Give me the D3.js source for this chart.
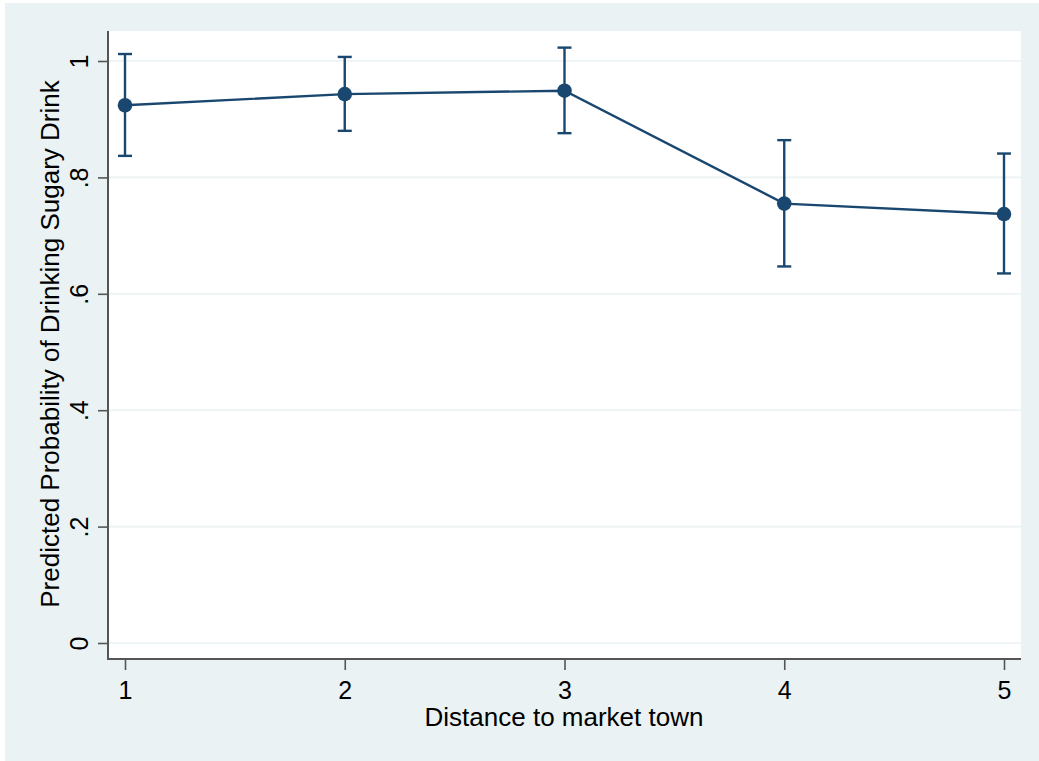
<!DOCTYPE html>
<html>
<head>
<meta charset="utf-8">
<script src="https://cdn.jsdelivr.net/npm/d3@7"></script>
<style>
html,body{margin:0;padding:0;background:#fff;}
svg{display:block;}
text{font-family:"Liberation Sans", Arial, sans-serif;fill:#000;}
</style>
</head>
<body>
<svg id="chart" width="1039" height="761"></svg>
<script>
const categories = [1, 2, 3, 4, 5];
const estimates = [0.924, 0.943, 0.949, 0.755, 0.737];
const ciLower = [0.837, 0.880, 0.876, 0.647, 0.635];
const ciUpper = [1.012, 1.007, 1.023, 0.864, 0.841];
const yTicks = [0, 0.2, 0.4, 0.6, 0.8, 1];
const yTickLabels = ["0", ".2", ".4", ".6", ".8", "1"];
const xTitle = "Distance to market town";
const yTitle = "Predicted Probability of Drinking Sugary Drink";

const svg = d3.select("#chart");
const W = 1039, H = 761;
const bg = "#eaf2f3", navy = "#1a476f", axisCol = "#555555";

svg.append("rect").attr("x", 5).attr("y", 3).attr("width", W - 5).attr("height", H - 3).attr("fill", bg);

const plot = {left: 108, top: 31, right: 1021, bottom: 659};
svg.append("rect").attr("x", plot.left).attr("y", plot.top)
  .attr("width", plot.right - plot.left).attr("height", plot.bottom - plot.top).attr("fill", "#fff");

const x = d3.scaleLinear().domain([1, 5]).range([125, 1004]);
const y = d3.scaleLinear().domain([0, 1]).range([643, 61]);

// gridlines
svg.append("g").selectAll("line").data(yTicks).join("line")
  .attr("x1", plot.left).attr("x2", plot.right)
  .attr("y1", d => y(d)).attr("y2", d => y(d))
  .attr("stroke", bg).attr("stroke-width", 1.6);

// Y axis
const yAxis = d3.axisLeft(y).tickValues(yTicks).tickFormat((d, i) => yTickLabels[i]).tickSize(10).tickPadding(8);
const gy = svg.append("g").attr("transform", `translate(${plot.left},0)`).call(yAxis);
gy.select(".domain").remove();
gy.selectAll(".tick line").attr("stroke", axisCol).attr("stroke-width", 1.6);
gy.selectAll(".tick text")
  .attr("font-size", 25).attr("fill", "#000")
  .attr("dy", null)
  .attr("text-anchor", "middle")
  .attr("transform", "translate(-20,0) rotate(-90)")
  .attr("x", 0).attr("y", 0);
svg.append("line").attr("x1", plot.left).attr("x2", plot.left)
  .attr("y1", plot.top).attr("y2", plot.bottom)
  .attr("stroke", axisCol).attr("stroke-width", 2);

// X axis
const xAxis = d3.axisBottom(x).tickValues(categories).tickFormat(d3.format("d")).tickSize(11).tickPadding(6);
const gx = svg.append("g").attr("transform", `translate(0,${plot.bottom})`).call(xAxis);
gx.select(".domain").remove();
gx.selectAll(".tick line").attr("stroke", axisCol).attr("stroke-width", 1.6);
gx.selectAll(".tick text").attr("font-size", 25).attr("fill", "#000").attr("dy", null).attr("y", 40);
svg.append("line").attr("x1", plot.left - 1).attr("x2", plot.right)
  .attr("y1", plot.bottom).attr("y2", plot.bottom)
  .attr("stroke", axisCol).attr("stroke-width", 2);

// titles
svg.append("text").attr("x", 564).attr("y", 726).attr("text-anchor", "middle")
  .attr("font-size", 26).text(xTitle);
svg.append("text").attr("transform", `translate(59,344) rotate(-90)`).attr("text-anchor", "middle")
  .attr("font-size", 26).text(yTitle);

// data
const data = categories.map((c, i) => ({c, est: estimates[i], lo: ciLower[i], hi: ciUpper[i]}));
const g = svg.append("g");
const capW = 7;
g.selectAll("line.err").data(data).join("line").attr("class", "err")
  .attr("x1", d => x(d.c)).attr("x2", d => x(d.c))
  .attr("y1", d => y(d.lo)).attr("y2", d => y(d.hi))
  .attr("stroke", navy).attr("stroke-width", 2.4);
g.selectAll("line.capT").data(data).join("line").attr("class", "capT")
  .attr("x1", d => x(d.c) - capW).attr("x2", d => x(d.c) + capW)
  .attr("y1", d => y(d.hi)).attr("y2", d => y(d.hi))
  .attr("stroke", navy).attr("stroke-width", 2.4);
g.selectAll("line.capB").data(data).join("line").attr("class", "capB")
  .attr("x1", d => x(d.c) - capW).attr("x2", d => x(d.c) + capW)
  .attr("y1", d => y(d.lo)).attr("y2", d => y(d.lo))
  .attr("stroke", navy).attr("stroke-width", 2.4);
g.append("path").datum(data)
  .attr("d", d3.line().x(d => x(d.c)).y(d => y(d.est)))
  .attr("fill", "none").attr("stroke", navy).attr("stroke-width", 2.4);
g.selectAll("circle").data(data).join("circle")
  .attr("cx", d => x(d.c)).attr("cy", d => y(d.est)).attr("r", 7.3)
  .attr("fill", navy);
</script>
</body>
</html>
